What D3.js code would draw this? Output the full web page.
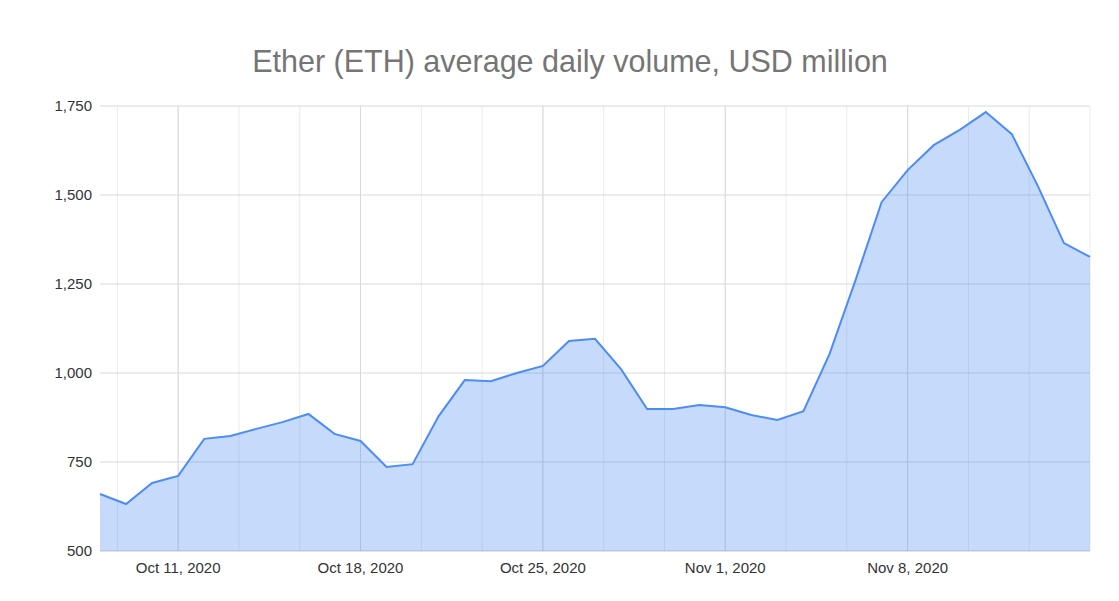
<!DOCTYPE html>
<html>
<head>
<meta charset="utf-8">
<script src="https://cdn.jsdelivr.net/npm/d3@7"></script>
<style>
  body { margin: 0; background: #fff; }
  text { font-family: "Liberation Sans", Arial, sans-serif; }
</style>
</head>
<body>
<div id="chart"></div>
<script>

// daily values, Oct 8 .. Nov 15 2020
var startDate = "2020-10-08";
var volumes = [660, 632, 691, 711, 815, 823, 843, 862, 885, 829,
  809, 736, 744, 879, 980, 977, 1000, 1020, 1090, 1096,
  1011, 899, 899, 910, 904, 882, 868, 893, 1053, 1261,
  1480, 1570, 1640, 1683, 1733, 1671, 1525, 1365, 1326];
var yTicks = [500, 750, 1000, 1250, 1500, 1750];
var xTickDates = ["2020-10-11", "2020-10-18", "2020-10-25", "2020-11-01", "2020-11-08"];
var title = "Ether (ETH) average daily volume, USD million";

var W = 1119, H = 601;
var margin = {top: 106, right: 29, bottom: 50, left: 100};
var parse = d3.utcParse("%Y-%m-%d");
var t0 = parse(startDate);

var data = volumes.map(function(v, i) {
  return {date: d3.utcDay.offset(t0, i), value: v};
});

var svg = d3.select("#chart").append("svg")
  .attr("width", W).attr("height", H);

var x = d3.scaleUtc()
  .domain([data[0].date, data[data.length - 1].date])
  .range([margin.left, W - margin.right]);
var y = d3.scaleLinear()
  .domain([500, 1750])
  .range([H - margin.bottom, margin.top]);

// minor vertical grid, every 1/3 week
var minor = [];
var firstTick = parse(xTickDates[0]);
for (var k = -3; k < 30; k++) {
  var d = new Date(firstTick.getTime() + k * 7 / 3 * 864e5);
  if (d >= x.domain()[0] && d <= x.domain()[1]) minor.push(d);
}
svg.append("g").selectAll("line").data(minor).enter().append("line")
  .attr("x1", d => x(d)).attr("x2", d => x(d))
  .attr("y1", y(1750)).attr("y2", y(500))
  .attr("stroke", "#ebebeb");

// major vertical grid
svg.append("g").selectAll("line").data(xTickDates).enter().append("line")
  .attr("x1", d => x(parse(d))).attr("x2", d => x(parse(d)))
  .attr("y1", y(1750)).attr("y2", y(500))
  .attr("stroke", "#d9d9d9");

// horizontal grid
svg.append("g").selectAll("line").data(yTicks).enter().append("line")
  .attr("x1", margin.left).attr("x2", W - margin.right)
  .attr("y1", d => y(d)).attr("y2", d => y(d))
  .attr("stroke", d => d === 500 ? "#c8c8c8" : "#d9d9d9");

var area = d3.area()
  .x(d => x(d.date)).y0(y(500)).y1(d => y(d.value));
var line = d3.line()
  .x(d => x(d.date)).y(d => y(d.value));

svg.append("path").datum(data)
  .attr("d", area).attr("fill", "#4285f4").attr("fill-opacity", 0.3);
svg.append("path").datum(data)
  .attr("d", line).attr("fill", "none")
  .attr("stroke", "#4d8cf5").attr("stroke-width", 2);

// y labels
svg.append("g").selectAll("text").data(yTicks).enter().append("text")
  .attr("x", margin.left - 8).attr("y", d => y(d)).attr("dy", "0.35em")
  .attr("text-anchor", "end").attr("font-size", 15).attr("fill", "#333")
  .text(d3.format(","));

// x labels
svg.append("g").selectAll("text").data(xTickDates).enter().append("text")
  .attr("x", d => x(parse(d))).attr("y", y(500) + 22)
  .attr("text-anchor", "middle").attr("font-size", 15).attr("fill", "#333")
  .text(d => d3.utcFormat("%b %-d, %Y")(parse(d)));

svg.append("text")
  .attr("x", 570).attr("y", 72)
  .attr("text-anchor", "middle").attr("font-size", 30.5).attr("fill", "#757575")
  .text(title);

</script>
</body>
</html>
